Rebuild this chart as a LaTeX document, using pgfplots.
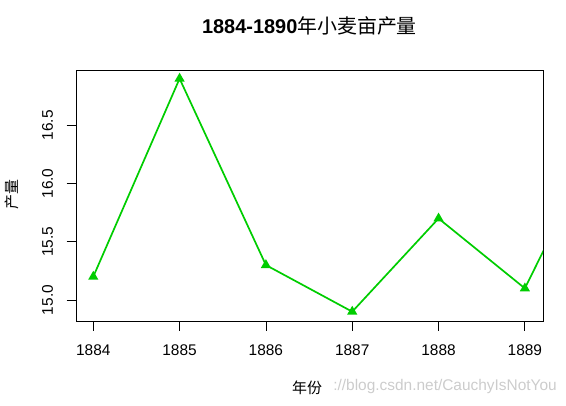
\documentclass[border=0pt]{standalone}
\usepackage{pgfplots}
\pgfplotsset{compat=1.18}
\usepackage{fontspec}
\setmainfont{Liberation Sans}
\newfontfamily\cjk{Noto Sans CJK SC}
\definecolor{rgreen}{HTML}{00CD00}
\begin{document}
\begin{tikzpicture}
\useasboundingbox (0,0) rectangle (566bp,406bp);
\node[anchor=east, text=black!20, font=\fontsize{15.5}{17}\selectfont, inner sep=0pt] at (557bp,19bp) {://blog.csdn.net/CauchyIsNotYou};
\node[font=\fontsize{15}{17}\selectfont\cjk, inner sep=0pt] at (307bp,18bp) {年份};
\node[font=\fontsize{15}{17}\selectfont\cjk, inner sep=0pt, rotate=90] at (12bp,211bp) {产量};
\begin{axis}[
  at={(76bp,85bp)}, anchor=south west,
  width=467bp, height=251bp, scale only axis,
  xmin=1883.80, xmax=1889.21,
  ymin=14.82, ymax=16.974,
  axis line style={line width=0.8bp},
  every tick/.style={black, line width=0.8bp},
  tick align=outside, major tick length=9.5bp,
  xtick={1884,1885,1886,1887,1888,1889},
  xticklabels={1884,1885,1886,1887,1888,1889},
  ytick={15,15.5,16,16.5},
  yticklabels={15.0,15.5,16.0,16.5},
  xtick pos=bottom, ytick pos=left,
  ticklabel style={font=\fontsize{15.5}{17}\selectfont},
  xticklabel style={yshift=-11bp},
  yticklabel style={rotate=90, anchor=south, yshift=10bp},
  title={\bfseries 1884-1890{\mdseries\cjk 年小麦亩产量}},
  title style={at={(axis description cs:0.5,1)}, anchor=center, yshift=38bp, font=\fontsize{20}{22}\selectfont},
  clip=true,
]
\addplot[rgreen, line width=1.7bp, mark=triangle*, mark size=4.2bp, mark options={solid, fill=rgreen}]
  coordinates {(1884,15.2) (1885,16.9) (1886,15.3) (1887,14.9) (1888,15.7) (1889,15.1) (1890,16.6)};
\end{axis}
\end{tikzpicture}
\end{document}
